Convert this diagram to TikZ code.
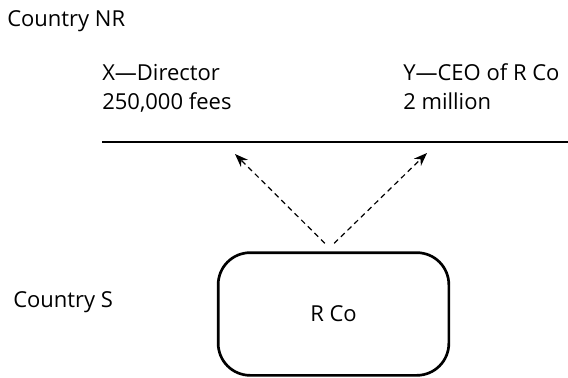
\documentclass[tikz,border=0pt]{standalone}
\usepackage{fontspec}
\setmainfont{Open Sans}
\usetikzlibrary{arrows.meta}

\begin{document}
\begin{tikzpicture}[x=0.75pt,y=-0.75pt,
    lbl/.style={anchor=base west,inner sep=0pt,font=\fontsize{16.5}{20}\selectfont},
    flow/.style={dash pattern=on 4pt off 3pt,line width=0.9pt,-{Stealth[length=10pt,width=7.5pt]}}]
        \useasboundingbox (0,0) rectangle (568,378);

        \node[lbl] (NR) at (7,27) {Country NR};
        \node[lbl] (S)  at (13,307) {Country S};
        \node[lbl] (X1) at (102,81) {X---Director};
        \node[lbl] (X2) at (102,110) {250,000 fees};
        \node[lbl] (Y1) at (403,81) {Y---CEO of R Co};
        \node[lbl] (Y2) at (403,110) {2 million};

        \node[shape=rectangle,draw=black,line width=2pt,rounded corners=24pt,
              minimum width=173pt,minimum height=92pt,font=\fontsize{16.5}{20}\selectfont]
              (R) at (333.5,314) {R Co};

        \coordinate (L1) at (102,142);
        \coordinate (L2) at (568,142);
        \coordinate (XT) at (235,154);
        \coordinate (YT) at (427,153);

        \path [-,line width=1.2pt](L1) edge (L2);
        \path [flow]([xshift=-6.5pt,yshift=6pt]R.north) edge (XT);
        \path [flow]([xshift=0.5pt,yshift=6pt]R.north) edge (YT);
    \end{tikzpicture}
\end{document}
